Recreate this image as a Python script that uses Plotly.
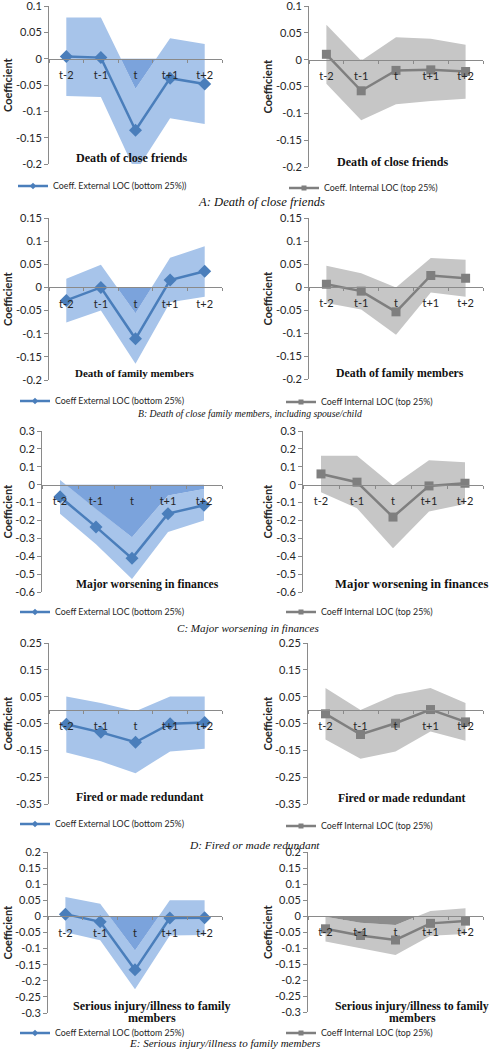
import plotly.graph_objects as go

W, H = 492, 1050

periods = ["t-2", "t-1", "t", "t+1", "t+2"]

# A: Death of close friends
a_ext_coef = [0.004, 0.002, -0.136, -0.037, -0.048]
a_ext_upper = [0.078, 0.078, -0.057, 0.039, 0.028]
a_ext_lower = [-0.071, -0.073, -0.215, -0.113, -0.124]
a_int_coef = [0.010, -0.058, -0.020, -0.019, -0.022]
a_int_upper = [0.065, -0.002, 0.042, 0.039, 0.028]
a_int_lower = [-0.045, -0.113, -0.083, -0.077, -0.073]
a_ticks = [0.1, 0.05, 0, -0.05, -0.1, -0.15, -0.2]

# B: Death of close family members
b_ext_coef = [-0.028, 0.000, -0.111, 0.016, 0.035]
b_ext_upper = [0.019, 0.049, -0.056, 0.064, 0.089]
b_ext_lower = [-0.076, -0.050, -0.165, -0.032, -0.020]
b_int_coef = [0.006, -0.009, -0.054, 0.025, 0.019]
b_int_upper = [0.046, 0.030, -0.001, 0.063, 0.059]
b_int_lower = [-0.035, -0.049, -0.104, -0.012, -0.021]
b_ticks = [0.15, 0.1, 0.05, 0, -0.05, -0.1, -0.15, -0.2]

# C: Major worsening in finances
c_ext_coef = [-0.068, -0.236, -0.412, -0.162, -0.115]
c_ext_upper = [0.026, -0.136, -0.294, -0.060, -0.024]
c_ext_lower = [-0.163, -0.333, -0.528, -0.265, -0.200]
c_int_coef = [0.060, 0.014, -0.181, -0.007, 0.008]
c_int_upper = [0.162, 0.162, -0.004, 0.137, 0.125]
c_int_lower = [-0.043, -0.132, -0.356, -0.150, -0.108]
c_ticks = [0.3, 0.2, 0.1, 0, -0.1, -0.2, -0.3, -0.4, -0.5, -0.6]

# D: Fired or made redundant
d_ext_coef = [-0.053, -0.083, -0.120, -0.051, -0.046]
d_ext_upper = [0.051, 0.026, -0.004, 0.051, 0.051]
d_ext_lower = [-0.158, -0.191, -0.235, -0.154, -0.144]
d_int_coef = [-0.014, -0.091, -0.049, 0.002, -0.044]
d_int_upper = [0.082, 0.000, 0.057, 0.082, 0.026]
d_int_lower = [-0.110, -0.181, -0.154, -0.080, -0.114]
d_ticks = [0.25, 0.15, 0.05, -0.05, -0.15, -0.25, -0.35]

# E: Serious injury/illness to family members
e_ext_coef = [0.007, -0.017, -0.166, -0.005, -0.004]
e_ext_upper = [0.060, 0.039, -0.106, 0.050, 0.050]
e_ext_lower = [-0.049, -0.074, -0.226, -0.059, -0.058]
e_int_coef = [-0.040, -0.061, -0.075, -0.023, -0.016]
e_int_upper = [-0.002, -0.021, -0.028, 0.016, 0.024]
e_int_lower = [-0.080, -0.100, -0.122, -0.062, -0.056]
e_ticks = [0.2, 0.15, 0.1, 0.05, 0, -0.05, -0.1, -0.15, -0.2, -0.25, -0.3]

titles = ["Death of close friends", "Death of family members",
          "Major worsening in finances", "Fired or made redundant",
          "Serious injury/illness to family<br>members"]
captions = ["A: Death of close friends",
            "B: Death of close family members, including spouse/child",
            "C: Major worsening in finances",
            "D: Fired or made redundant",
            "E: Serious injury/illness to family members"]
ext_names = ["Coeff. External LOC (bottom 25%))", "Coeff External LOC (bottom 25%)",
             "Coeff External LOC (bottom 25%)", "Coeff External LOC (bottom 25%)",
             "Coeff External LOC (bottom 25%)"]
int_names = ["Coeff. Internal LOC (top 25%)", "Coeff Internal LOC (top 25%)",
             "Coeff Internal LOC (top 25%)", "Coeff Internal LOC (top 25%)",
             "Coeff Internal LOC (top 25%)"]

rows = [
    (a_ext_coef, a_ext_upper, a_ext_lower, a_int_coef, a_int_upper, a_int_lower, a_ticks),
    (b_ext_coef, b_ext_upper, b_ext_lower, b_int_coef, b_int_upper, b_int_lower, b_ticks),
    (c_ext_coef, c_ext_upper, c_ext_lower, c_int_coef, c_int_upper, c_int_lower, c_ticks),
    (d_ext_coef, d_ext_upper, d_ext_lower, d_int_coef, d_int_upper, d_int_lower, d_ticks),
    (e_ext_coef, e_ext_upper, e_ext_lower, e_int_coef, e_int_upper, e_int_lower, e_ticks),
]

# layout geometry in pixels
plot_boxes = [  # (left x0, x1, top, bottom), (right x0, x1, top, bottom)
    ((49, 222, 6, 164), (309, 483, 6, 167)),
    ((49, 222, 218, 380), (309, 483, 218, 379)),
    ((42, 222, 431, 592), (303, 483, 431, 592)),
    ((49, 222, 643, 804), (308, 483, 643, 804)),
    ((48, 222, 852, 1013), (308, 483, 852, 1012)),
]
title_pos = [((131, 158), (392, 162)), ((135, 373), (400, 373)), ((147, 584), (411, 584)),
             ((140, 797), (402, 798)), ((152, 1012), (412, 1012))]
title_size = [(12.1, 12.1), (11, 11.8), (11.7, 12.6), (11.8, 11.8), (12.1, 11.8)]
legend_pos = [((57, 186), (328, 188)), ((59, 401), (325, 402)), ((59, 612), (325, 612)),
              ((59, 824), (325, 826)), ((59, 1033), (325, 1033))]
caption_pos = [(261, 202), (250, 413), (248, 628), (254, 845), (224, 1043)]
caption_size = [12.6, 9.7, 11.1, 11.4, 11]

styles = {
    "ext": dict(line="#4A7EBB", band="#A7C4EA", dark="#7BA3DC", symbol="diamond", msize=10),
    "int": dict(line="#7F7F7F", band="#C6C6C6", dark="#8C8C8C", symbol="square", msize=9),
}
axis_color = "#8A8A8A"
tick_font = dict(family="Lato, Liberation Sans, sans-serif", size=11, color="#262626")


def below_zero(xs, ys):
    px, py = [], []
    for i, y in enumerate(ys):
        if i > 0:
            y0 = ys[i - 1]
            if (y0 < 0) != (y < 0) and y != y0:
                xc = xs[i - 1] + (0 - y0) / (y - y0) * (xs[i] - xs[i - 1])
                px.append(xc)
                py.append(0)
        px.append(xs[i])
        py.append(min(y, 0))
    return px, py


fig = go.Figure()
annotations = []
xs = list(range(len(periods)))
idx = 0
eps = 1e-6
for r, row in enumerate(rows):
    ticks = row[6]
    ymin, ymax = min(ticks), max(ticks)
    for side, (coef, upper, lower) in enumerate([(row[0], row[1], row[2]), (row[3], row[4], row[5])]):
        idx += 1
        key = "ext" if side == 0 else "int"
        st = styles[key]
        xa = "x" if idx == 1 else f"x{idx}"
        ya = "y" if idx == 1 else f"y{idx}"
        lg = "legend" if idx == 1 else f"legend{idx}"
        x0, x1, top, bot = plot_boxes[r][side]
        dom_y = [1 - bot / H, 1 - top / H]
        zero_pos = dom_y[0] + (0 - ymin) / (ymax - ymin) * (dom_y[1] - dom_y[0])

        fig.add_trace(go.Scatter(x=xs, y=lower, mode="lines", line=dict(width=0),
                                 showlegend=False, hoverinfo="skip", xaxis=xa, yaxis=ya))
        fig.add_trace(go.Scatter(x=xs, y=upper, mode="lines", line=dict(width=0),
                                 fill="tonexty", fillcolor=st["band"],
                                 showlegend=False, hoverinfo="skip", xaxis=xa, yaxis=ya))
        dx, dy = below_zero(xs, upper)
        fig.add_trace(go.Scatter(x=dx, y=dy, mode="lines", line=dict(width=0),
                                 fill="tozeroy", fillcolor=st["dark"],
                                 showlegend=False, hoverinfo="skip", xaxis=xa, yaxis=ya))
        fig.add_trace(go.Scatter(x=xs, y=coef, mode="lines+markers",
                                 line=dict(color=st["line"], width=2.5), showlegend=False,
                                 marker=dict(symbol=st["symbol"], size=st["msize"], color=st["line"]),
                                 xaxis=xa, yaxis=ya))
        # legend entry (small symbol, as in the source)
        fig.add_trace(go.Scatter(x=[None], y=[None], mode="lines+markers",
                                 name=(ext_names if side == 0 else int_names)[r],
                                 line=dict(color=st["line"], width=2.5),
                                 marker=dict(symbol=st["symbol"], size=5, color=st["line"]),
                                 xaxis=xa, yaxis=ya, legend=lg, showlegend=True))

        fig.update_layout(**{
            ("xaxis" if idx == 1 else f"xaxis{idx}"): dict(
                domain=[x0 / W, x1 / W], range=[-0.5, 4.5], anchor="free", position=zero_pos,
                tickvals=xs, ticktext=periods, showline=True, linecolor=axis_color, linewidth=1,
                ticks="", showgrid=False, zeroline=False, tickfont=tick_font,
                ticklabelstandoff=6, automargin=False, ticklabeloverflow="allow",
                minor=dict(tickvals=[-0.5, 0.5, 1.5, 2.5, 3.5, 4.5], ticks="outside",
                           ticklen=3, tickcolor=axis_color),
            ),
            ("yaxis" if idx == 1 else f"yaxis{idx}"): dict(
                domain=dom_y, range=[ymin - eps, ymax + eps], anchor=xa,
                tickvals=ticks, ticktext=[f"{t:g}" for t in ticks], automargin=False,
                ticklabeloverflow="allow",
                showline=True, linecolor=axis_color, linewidth=1, ticks="outside", ticklen=4,
                tickcolor=axis_color, showgrid=False, zeroline=False, tickfont=tick_font,
            ),
            lg: dict(x=(legend_pos[r][side][0] - 44) / W, y=1 - legend_pos[r][side][1] / H,
                     xanchor="left", yanchor="middle", bgcolor="rgba(0,0,0,0)",
                     font=dict(family="Lato, Liberation Sans, sans-serif", size=8.8, color="#262626"),
                     itemwidth=30),
        })

        tx, ty = title_pos[r][side]
        lines = titles[r].split("<br>")
        for k, ln in enumerate(lines):
            ly = ty + (k - (len(lines) - 1) / 2) * 12.7
            annotations.append(dict(text=f"<b>{ln}</b>", x=tx / W, y=1 - ly / H, xref="paper",
                                    yref="paper", showarrow=False, xanchor="center", yanchor="middle",
                                    font=dict(family="Liberation Serif, serif",
                                              size=title_size[r][side], color="#111")))
        annotations.append(dict(text="<b>Coefficient</b>", x=(7 if side == 0 else 267) / W,
                                y=1 - (top + bot) / 2 / H, xref="paper", yref="paper",
                                showarrow=False, textangle=-90, xanchor="center", yanchor="middle",
                                font=dict(family="Lato, Liberation Sans, sans-serif", size=11,
                                          color="#262626")))
    cx, cy = caption_pos[r]
    annotations.append(dict(text=f"<i>{captions[r]}</i>", x=cx / W, y=1 - cy / H, xref="paper",
                            yref="paper", showarrow=False, xanchor="center", yanchor="middle",
                            font=dict(family="Liberation Serif, serif", size=caption_size[r],
                                      color="#111")))

fig.update_layout(width=W, height=H, margin=dict(l=0, r=0, t=0, b=0, autoexpand=False),
                  paper_bgcolor="white", plot_bgcolor="rgba(0,0,0,0)",
                  annotations=annotations, showlegend=True)

fig.write_html("out.html", post_script="document.body.style.margin='0';",
               config={"displayModeBar": False})
